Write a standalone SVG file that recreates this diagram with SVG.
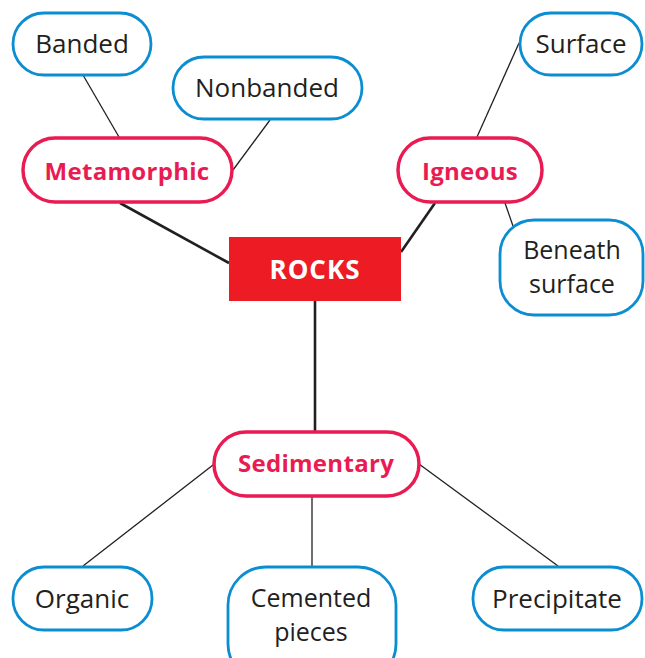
<svg xmlns="http://www.w3.org/2000/svg" width="645" height="658" viewBox="0 0 645 658">
<style>
.leaf{fill:#fff;stroke:#0b8dd2;stroke-width:2.8}
.cat{fill:#fff;stroke:#ea1b52;stroke-width:3.5}
.lt{font-family:"Open Sans","Liberation Sans",sans-serif;font-size:26px;fill:#231f20;text-anchor:middle}
.lt2{font-size:25px}
.ct{font-family:"Open Sans","Liberation Sans",sans-serif;font-weight:bold;font-size:24px;fill:#ea1b52;text-anchor:middle;letter-spacing:0.3px}
.thin{stroke:#231f20;stroke-width:1.3;fill:none}
.thick{stroke:#231f20;stroke-width:2.6;fill:none}
</style>
<rect width="645" height="658" fill="#fff"/>
<g id="connectors">
<line class="thick" x1="120" y1="203" x2="229" y2="263"/>
<line class="thick" x1="435" y1="203" x2="401" y2="252"/>
<line class="thick" x1="315" y1="301" x2="315" y2="431"/>
<line class="thin" x1="83" y1="75" x2="119" y2="137"/>
<line class="thin" x1="270" y1="120" x2="233" y2="170"/>
<line class="thin" x1="519" y1="43" x2="477" y2="137"/>
<line class="thin" x1="505" y1="203" x2="513" y2="226"/>
<line class="thin" x1="213" y1="465" x2="83" y2="566"/>
<line class="thin" x1="312" y1="497" x2="312" y2="567"/>
<line class="thin" x1="419" y1="464" x2="558" y2="566"/>
</g>
<g id="rocks">
<rect x="229" y="237" width="172" height="64" fill="#ed1c24"/>
<text x="315" y="279" font-family="'Open Sans','Liberation Sans',sans-serif" font-weight="bold" font-size="26" letter-spacing="1" fill="#fff" text-anchor="middle">ROCKS</text>
</g>
<g id="metamorphic">
<rect class="cat" x="23" y="138" width="209" height="64" rx="32"/>
<text class="ct" x="127" y="180">Metamorphic</text>
</g>
<g id="igneous">
<rect class="cat" x="398" y="138" width="144" height="64" rx="32"/>
<text class="ct" x="470" y="180">Igneous</text>
</g>
<g id="sedimentary">
<rect class="cat" x="214" y="432" width="205" height="64" rx="32"/>
<text class="ct" x="316" y="472">Sedimentary</text>
</g>
<g id="banded">
<rect class="leaf" x="13" y="13" width="138" height="62" rx="31"/>
<text class="lt" x="82" y="53">Banded</text>
</g>
<g id="nonbanded">
<rect class="leaf" x="173" y="57" width="189" height="62" rx="31"/>
<text class="lt" x="267" y="97">Nonbanded</text>
</g>
<g id="surface">
<rect class="leaf" x="520" y="13" width="122" height="62" rx="31"/>
<text class="lt" x="581" y="53">Surface</text>
</g>
<g id="beneath-surface">
<rect class="leaf" x="500" y="220" width="143" height="95" rx="34"/>
<text class="lt lt2" x="572" y="259">Beneath</text>
<text class="lt lt2" x="572" y="293">surface</text>
</g>
<g id="organic">
<rect class="leaf" x="13" y="567" width="139" height="63" rx="31"/>
<text class="lt" x="82" y="608">Organic</text>
</g>
<g id="cemented-pieces">
<rect class="leaf" x="228" y="567" width="168" height="115" rx="38"/>
<text class="lt lt2" x="311" y="607">Cemented</text>
<text class="lt lt2" x="311" y="641">pieces</text>
</g>
<g id="precipitate">
<rect class="leaf" x="473" y="567" width="169" height="63" rx="31"/>
<text class="lt" x="557" y="608">Precipitate</text>
</g>
</svg>
